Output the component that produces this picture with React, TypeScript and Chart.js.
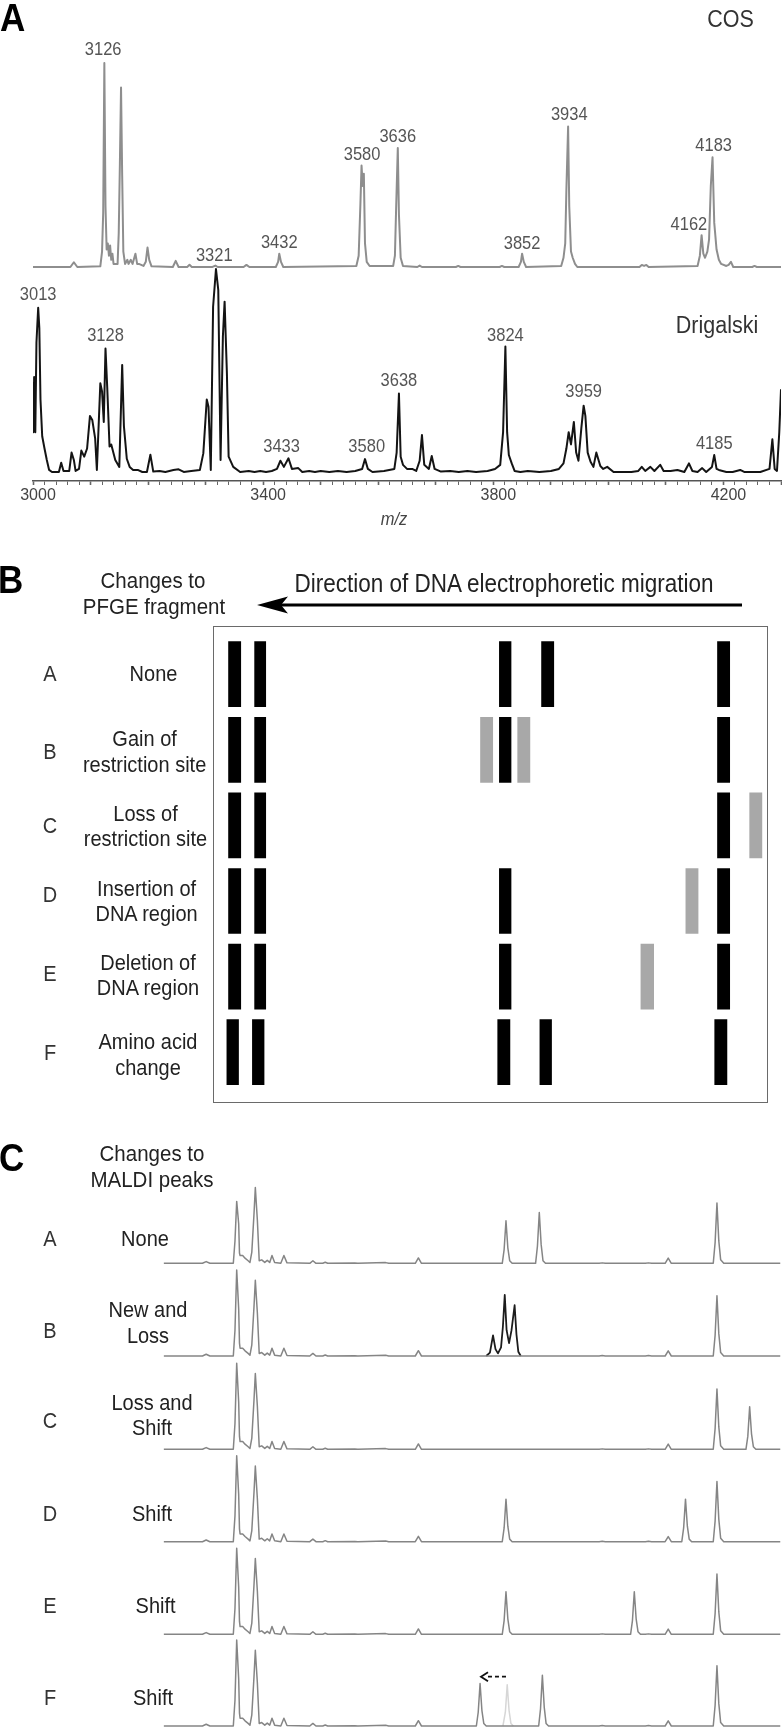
import React, { useEffect, useRef } from 'react';
import { Chart, registerables } from 'chart.js';

Chart.register(...registerables);

const FONT = '"Liberation Sans", Arial, Helvetica, sans-serif';
Chart.defaults.font.family = FONT;
const TEXT_STRETCH = 1.12;

// ---------------- Panel A : MALDI-TOF spectra (m/z, relative intensity) ----------------
const mzTickLabels = [3000, 3400, 3800, 4200];

const cosSpectrum: [number, number][] = [
  [3000, 0.5], [3065, 0.5], [3071, 2.8], [3077, 0.5],
  [3117, 0.8], [3120, 8], [3122, 27], [3124, 100], [3126, 30], [3128, 9], [3130, 12], [3132, 6], [3134, 11], [3136, 4], [3138, 7], [3140, 2],
  [3147, 2], [3149, 17], [3151, 51], [3153, 88], [3155, 45], [3157, 8], [3160, 2], [3164, 4], [3166, 2], [3170, 4], [3173, 2],
  [3178, 7], [3181, 2], [3184, 2], [3192, 1], [3196, 3], [3199, 10], [3202, 4], [3206, 0.8],
  [3243, 0.5], [3248, 3.5], [3253, 0.5], [3268, 0.5], [3272, 1.6], [3276, 0.5], [3312, 0.5], [3317, 1.2], [3321, 0.5],
  [3366, 0.5], [3371, 1.5], [3376, 0.5],
  [3422, 0.5], [3426, 3], [3428, 7], [3431, 3], [3435, 0.5],
  [3562, 1], [3566, 6], [3569, 31], [3571, 50], [3573, 40], [3575, 46], [3577, 12], [3580, 3], [3585, 1],
  [3626, 1], [3629, 6], [3631, 28], [3634, 58.5], [3636, 26], [3639, 5], [3643, 1],
  [3668, 0.5], [3672, 1.2], [3676, 0.5], [3735, 0.5], [3739, 1], [3743, 0.5], [3811, 0.5], [3815, 1], [3819, 0.5],
  [3844, 0.5], [3848, 3], [3850, 7], [3853, 3], [3857, 0.5],
  [3918, 1], [3922, 5], [3925, 12], [3927, 38], [3930, 69], [3932, 30], [3935, 8], [3938, 5], [3942, 2], [3946, 0.5],
  [4054, 0.5], [4058, 1.5], [4062, 1], [4066, 1.5], [4070, 0.5],
  [4155, 1], [4159, 6], [4162, 16], [4165, 7], [4168, 5], [4172, 8], [4175, 14], [4178, 40], [4181, 54], [4184, 22],
  [4188, 9], [4192, 4], [4196, 2], [4205, 1], [4209, 1.5], [4213, 3], [4217, 0.5], [4250, 0.5], [4254, 1], [4258, 0.5], [4300, 0.5],
];

const drigalskiSpectrum: [number, number][] = [
  [3000, 44], [3000.5, 20], [3002, 47], [3004, 20], [3006, 64], [3009, 81], [3011, 71], [3013, 36], [3016, 18], [3020, 12],
  [3024, 6.4], [3028, 1.5], [3033, 0.5], [3045, 0.5], [3049, 5], [3053, 1], [3063, 1], [3067, 10], [3071, 6.4], [3074, 1],
  [3080, 2], [3084, 11], [3089, 8], [3094, 12], [3099, 28], [3103, 26], [3108, 17], [3111, 1.5], [3117, 44], [3120, 40],
  [3123, 25], [3126, 61], [3129, 42], [3133, 13], [3136, 14], [3143, 6.4], [3150, 3], [3155, 53], [3158, 23], [3163, 7],
  [3168, 3], [3174, 1.5], [3182, 1.5], [3190, 0.5], [3198, 0.5], [3204, 9], [3209, 0.7], [3220, 1], [3230, 0.5], [3244, 1.5],
  [3253, 1.8], [3262, 0.5], [3275, 1], [3290, 1.5], [3296, 9.6], [3302, 36], [3305, 32.5], [3309, 1.5], [3313, 81.5], [3318, 100],
  [3322, 89.7], [3326, 6.4], [3330, 66.8], [3333, 84], [3337, 48.9], [3340, 8], [3348, 3], [3360, 0.5], [3375, 1], [3385, 0.5],
  [3395, 1], [3405, 0.5], [3415, 1], [3424, 2], [3430, 6], [3436, 3], [3444, 7.2], [3450, 2], [3461, 2.4], [3468, 0.5],
  [3480, 1], [3490, 0.5], [3500, 1], [3515, 0.5], [3530, 1], [3545, 0.5], [3560, 1], [3572, 2], [3577, 6.8], [3582, 2],
  [3590, 0.5], [3610, 1], [3628, 2], [3632, 10], [3636, 39], [3639, 8], [3643, 4], [3650, 2], [3659, 2], [3666, 1],
  [3672, 6], [3676, 18.6], [3680, 4], [3688, 2], [3693, 8.3], [3698, 2], [3709, 0.7], [3725, 1], [3740, 0.5], [3755, 1],
  [3770, 0.5], [3790, 1], [3803, 2], [3812, 4], [3817, 20], [3821, 62], [3824, 20], [3827, 8.8], [3832, 4.7], [3837, 1],
  [3847, 0.5], [3860, 1], [3880, 0.5], [3900, 1], [3914, 2], [3922, 4.7], [3927, 12], [3931, 20], [3935, 14], [3940, 25],
  [3944, 10], [3948, 6], [3953, 22], [3957, 33], [3960, 28], [3964, 10], [3969, 5.5], [3974, 3], [3979, 10], [3986, 3.4],
  [3991, 2], [3998, 3], [4009, 0.5], [4025, 0.5], [4040, 0.5], [4052, 1], [4058, 3], [4064, 1], [4073, 3], [4080, 1],
  [4090, 4], [4096, 1], [4108, 1], [4120, 1.5], [4132, 0.5], [4140, 4.7], [4146, 1], [4155, 0.5], [4163, 2.4], [4170, 0.5],
  [4180, 3], [4184, 8.8], [4188, 2], [4192, 1.5], [4205, 0.5], [4216, 0.5], [4229, 1.5], [4236, 0.5], [4247, 0.5], [4256, 0.5],
  [4264, 0.5], [4280, 2], [4285, 16.5], [4289, 2], [4293, 1], [4297, 20], [4300, 41],
];

const cosPeakLabels = ['3126', '3432', '3580', '3636', '3852', '3934', '4162', '4183'];
const cosLabelMz = [3122, 3428, 3572, 3634, 3850, 3932, 4140, 4183];
const cosLabelLevel = [107.3, 12.8, 56, 64.9, 12.7, 75.6, 22, 60.5];

const drigPeakLabels = ['3013', '3128', '3321', '3433', '3580', '3638', '3824', '3959', '4185'];
const drigLabelMz = [3009, 3126, 3315, 3432, 3580, 3636, 3821, 3957, 4184];
const drigLabelLevel = [88, 68, 107, 13.7, 13.7, 46, 68, 40.7, 15.2];

// ---------------- Panel B : PFGE band diagram (relative migration 0-100) ----------------
const pfgeRows = ['A', 'B', 'C', 'D', 'E', 'F'];
const pfgeRowText = [
  ['None'],
  ['Gain of', 'restriction site'],
  ['Loss of', 'restriction site'],
  ['Insertion of', 'DNA region'],
  ['Deletion of', 'DNA region'],
  ['Amino acid', 'change'],
];
const bandRow = [
  'A', 'A', 'A', 'A', 'A',
  'B', 'B', 'B', 'B', 'B', 'B',
  'C', 'C', 'C', 'C',
  'D', 'D', 'D', 'D', 'D',
  'E', 'E', 'E', 'E', 'E',
  'F', 'F', 'F', 'F', 'F',
];
const bandStart = [
  2.8, 7.5, 51.6, 59.2, 90.9,
  2.8, 7.5, 48.2, 51.6, 54.9, 90.9,
  2.8, 7.5, 90.9, 96.7,
  2.8, 7.5, 51.6, 85.2, 90.9,
  2.8, 7.5, 51.6, 77.1, 90.9,
  2.5, 7.1, 51.3, 58.9, 90.4,
];
const bandEnd = [
  5.0, 9.5, 53.7, 61.4, 93.1,
  5.0, 9.5, 50.4, 53.7, 57.1, 93.1,
  5.0, 9.5, 93.1, 98.9,
  5.0, 9.5, 53.7, 87.4, 93.1,
  5.0, 9.5, 53.7, 79.4, 93.1,
  4.6, 9.2, 53.5, 61.0, 92.6,
];
const bandAltered = [
  0, 0, 0, 0, 0,
  0, 0, 1, 0, 1, 0,
  0, 0, 0, 1,
  0, 0, 0, 1, 0,
  0, 0, 0, 1, 0,
  0, 0, 0, 0, 0,
];

// ---------------- Panel C : schematic MALDI peaks (relative position 0-100, intensity) ----------------
const maldiRowText = [['None'], ['New and', 'Loss'], ['Loss and', 'Shift'], ['Shift'], ['Shift'], ['Shift']];
const maldiMinor: [number, number][] = [
  [0, 0], [6.3, 0], [6.9, 2], [7.5, 0], [12.4, 9], [12.82, 9], [13.2, 6], [13.7, 3],
  [15.9, 4], [16.4, 1], [16.8, 3.4], [17.2, 1], [17.57, 9], [18, 1], [19, 0], [19.5, 9], [20, 0.5],
  [23.7, 0], [24.2, 3], [24.7, 0], [25.8, 0], [26.2, 1.2], [26.6, 0], [31, 0.3], [31.5, 0], [36, 0.8], [36.5, 0],
  [40.8, 0], [41.3, 6.2], [41.8, 0], [70.6, 0], [71.1, 0.5], [71.6, 0], [78.1, 0], [78.6, 0.5], [79.1, 0],
  [81.3, 0], [81.8, 6], [82.3, 0], [100, 0],
];
const peak1Short: [number, number][] = [[11.3, 0], [11.57, 26], [11.85, 72], [12.17, 46], [12.3, 12]];
const peak1: [number, number][] = [[11.3, 0], [11.57, 30], [11.85, 100], [12.17, 55], [12.3, 15]];
const peak2: [number, number][] = [[14.0, 1], [14.3, 13], [14.65, 57], [14.87, 88], [15.2, 50], [15.5, 3]];
const peak55: [number, number][] = [[54.9, 0], [55.2, 16], [55.5, 49.5], [55.8, 18], [56.1, 3], [56.5, 0]];
const peak61: [number, number][] = [[60.3, 0], [60.6, 20], [60.9, 59], [61.2, 22], [61.5, 3], [61.9, 0]];
const peak90: [number, number][] = [[89.1, 0], [89.4, 24], [89.7, 70], [90.0, 26], [90.3, 4], [90.8, 0]];
const peak95: [number, number][] = [[94.4, 0], [94.7, 15], [95.0, 49.5], [95.3, 18], [95.6, 3], [96.0, 0]];
const peak85: [number, number][] = [[84.0, 0], [84.3, 16], [84.6, 49.5], [84.9, 18], [85.2, 3], [85.6, 0]];
const peak76: [number, number][] = [[75.7, 0], [76.0, 16], [76.3, 49.5], [76.6, 18], [76.9, 3], [77.3, 0]];
const peak51: [number, number][] = [[50.7, 0], [51.0, 16], [51.3, 49.5], [51.6, 18], [51.9, 3], [52.3, 0]];
const peak61F: [number, number][] = [[60.8, 0], [61.1, 20], [61.4, 59], [61.7, 22], [62.0, 3], [62.4, 0]];
const newPeaksB: [number, number][] = [
  [52.3, 0], [52.9, 4], [53.4, 24], [53.8, 8], [54.2, 3], [54.7, 10], [55.0, 34], [55.3, 71], [55.6, 30],
  [56.0, 15], [56.4, 30], [56.9, 59], [57.2, 25], [57.5, 5], [57.9, 0],
];
const lostPeakF: [number, number][] = [[55.0, 0], [55.4, 16], [55.7, 48], [56.0, 18], [56.3, 3], [56.7, 0]];
const maldiRowPeaks: [number, number][][] = [
  [...peak1Short, ...peak2, ...peak55, ...peak61, ...peak90],
  [...peak1, ...peak2, ...peak90],
  [...peak1, ...peak2, ...peak90, ...peak95],
  [...peak1, ...peak2, ...peak55, ...peak85, ...peak90],
  [...peak1, ...peak2, ...peak55, ...peak76, ...peak90],
  [...peak1, ...peak2, ...peak51, ...peak61F, ...peak90],
];
const shiftArrowFrom = 55.5;
const shiftArrowTo = 51.45;
const shiftArrowLevel = 57.3;

// ---------------- layout ----------------
const W = 782;
const A_TOP = 0, A_H = 530;
const B_TOP = 615, B_H = 500;
const C_TOP = 1180, C_H = 550;
const C_ROW_BASE = [1263.3, 1356, 1449.3, 1541.7, 1634.3, 1726];
const C_PX_PER_UNIT = 0.86;

type TxtProps = {
  x: number; y: number; children: React.ReactNode; size?: number; weight?: number;
  align?: 'left' | 'center' | 'right'; color?: string; italic?: boolean;
};
function Txt({ x, y, children, size = 20, weight = 400, align = 'center', color = '#222', italic = false }: TxtProps) {
  const tx = align === 'center' ? 'translateX(-50%) ' : align === 'right' ? 'translateX(-100%) ' : '';
  const style: React.CSSProperties = {
    position: 'absolute', left: x, top: y - size / 2, fontSize: size, lineHeight: `${size}px`,
    fontFamily: FONT, fontWeight: weight, color, whiteSpace: 'nowrap', fontStyle: italic ? 'italic' : 'normal',
    transform: `${tx}scaleY(${TEXT_STRETCH})`, transformOrigin: 'center center',
  };
  return <div style={style}>{children}</div>;
}

function toXY(arr: [number, number][]) {
  return arr.map(([x, y]) => ({ x, y }));
}

export default function App() {
  const aRef = useRef<HTMLCanvasElement>(null);
  const bRef = useRef<HTMLCanvasElement>(null);
  const cRef = useRef<HTMLCanvasElement>(null);

  useEffect(() => {
    const charts: Chart[] = [];

    // ---------- Panel A ----------
    const aPlotTop = 30, aPlotBottom = 481;
    const cosBase = 268, cosScale = 2.05;
    const drigBase = 473, drigScale = 2.04;
    const labelPlugin = {
      id: 'peakLabels',
      afterDatasetsDraw(chart: any) {
        const { ctx } = chart;
        const xs = chart.scales.x;
        const size = 16.5;
        ctx.save();
        ctx.font = `${size}px ${FONT}`;
        ctx.fillStyle = '#555';
        ctx.textAlign = 'center';
        ctx.textBaseline = 'alphabetic';
        const sets = [
          { axis: 'yCos', labels: cosPeakLabels, mz: cosLabelMz, lvl: cosLabelLevel },
          { axis: 'yDrig', labels: drigPeakLabels, mz: drigLabelMz, lvl: drigLabelLevel },
        ];
        for (const s of sets) {
          const ys = chart.scales[s.axis];
          s.labels.forEach((t, i) => {
            ctx.save();
            ctx.translate(xs.getPixelForValue(s.mz[i]), ys.getPixelForValue(s.lvl[i]));
            ctx.scale(1, TEXT_STRETCH);
            ctx.fillText(t, 0, size * 0.358);
            ctx.restore();
          });
        }
        ctx.restore();
      },
    };
    charts.push(new Chart(aRef.current!, {
      type: 'line',
      data: {
        datasets: [
          { label: 'COS', data: toXY(cosSpectrum), yAxisID: 'yCos', borderColor: '#8e8e8e', borderWidth: 2,
            pointRadius: 0, tension: 0, fill: false, borderJoinStyle: 'round' },
          { label: 'Drigalski', data: toXY(drigalskiSpectrum), yAxisID: 'yDrig', borderColor: '#141414', borderWidth: 2,
            pointRadius: 0, tension: 0, fill: false, borderJoinStyle: 'round' },
        ],
      },
      options: {
        responsive: false, animation: false, events: [],
        layout: { padding: { left: 33, right: 1, top: aPlotTop, bottom: 0 } },
        plugins: { legend: { display: false }, tooltip: { enabled: false } },
        scales: {
          x: {
            type: 'linear', position: 'bottom', min: 3000, max: 4300,
            afterFit: (s: any) => { s.height = A_H - aPlotBottom; },
            border: { display: true, color: '#555', width: 1.5 },
            grid: {
              drawOnChartArea: false, drawTicks: true, tickLength: 4, color: '#666',
              tickWidth: (c: any) => (Math.round(c.tick?.value ?? 0) % 100 === 0 ? 1.6 : 1),
            },
            ticks: {
              stepSize: 20, autoSkip: false, maxTicksLimit: 1000, maxRotation: 0, minRotation: 0,
              padding: 1, labelOffset: 5, color: '#444', font: { size: 16, family: FONT },
              callback: (v: any) => (mzTickLabels.includes(Math.round(Number(v))) ? String(Math.round(Number(v))) : ''),
            },
          },
          yCos: {
            type: 'linear', display: false,
            min: -(aPlotBottom - cosBase) / cosScale, max: (cosBase - aPlotTop) / cosScale,
          },
          yDrig: {
            type: 'linear', display: false,
            min: -(aPlotBottom - drigBase) / drigScale, max: (drigBase - aPlotTop) / drigScale,
          },
        },
      } as any,
      plugins: [labelPlugin],
    } as any));

    // ---------- Panel B ----------
    const boxPlugin = {
      id: 'gelBox',
      beforeDatasetsDraw(chart: any) {
        const { ctx, chartArea: a } = chart;
        ctx.save();
        ctx.strokeStyle = '#6a6a6a';
        ctx.lineWidth = 1;
        const top = Math.round(a.top - 10.7) + 0.5;
        const bottom = Math.round(a.bottom + 11.7) + 0.5;
        ctx.strokeRect(Math.round(a.left) + 0.5, top, Math.round(a.right - a.left) - 1, bottom - top);
        ctx.restore();
      },
    };
    charts.push(new Chart(bRef.current!, {
      type: 'bar',
      data: {
        labels: pfgeRows,
        datasets: bandRow.map((r, i) => ({
          label: `band ${i}`,
          data: pfgeRows.map((row) => (row === r ? [bandStart[i], bandEnd[i]] : null)),
          backgroundColor: bandAltered[i] ? '#a8a8a8' : '#000000',
          borderWidth: 0,
          barThickness: 65,
          grouped: false,
        })),
      },
      options: {
        indexAxis: 'y', responsive: false, animation: false, events: [],
        layout: { padding: { left: 213, right: W - 768, top: 636.4 - B_TOP, bottom: B_TOP + B_H - 1090 } },
        plugins: { legend: { display: false }, tooltip: { enabled: false } },
        scales: {
          x: { type: 'linear', min: 0, max: 100, display: false },
          y: { type: 'category', display: false, offset: true },
        },
      } as any,
      plugins: [boxPlugin],
    } as any));

    // ---------- Panel C ----------
    const cAxes: any = {};
    C_ROW_BASE.forEach((b, i) => {
      const local = b - C_TOP;
      cAxes[`y${i}`] = { type: 'linear', display: false, min: -(C_H - local) / C_PX_PER_UNIT, max: local / C_PX_PER_UNIT };
    });
    const cDatasets: any[] = maldiRowPeaks.map((peaks, i) => ({
      label: `row ${pfgeRows[i]}`,
      data: toXY([...maldiMinor, ...peaks].sort((p, q) => p[0] - q[0])),
      yAxisID: `y${i}`,
      borderColor: '#858585', borderWidth: 1.5, pointRadius: 0, tension: 0, fill: false, borderJoinStyle: 'round',
    }));
    cDatasets.push({
      label: 'new peaks B', data: toXY(newPeaksB), yAxisID: 'y1',
      borderColor: '#1c1c1c', borderWidth: 1.8, pointRadius: 0, tension: 0, fill: false, borderJoinStyle: 'round',
    });
    cDatasets.push({
      label: 'lost peak F', data: toXY(lostPeakF), yAxisID: 'y5',
      borderColor: '#d6d6d6', borderWidth: 1.5, pointRadius: 0, tension: 0, fill: false, borderJoinStyle: 'round',
    });
    const arrowPlugin = {
      id: 'shiftArrow',
      afterDatasetsDraw(chart: any) {
        const { ctx } = chart;
        const xs = chart.scales.x, ys = chart.scales.y5;
        const y = ys.getPixelForValue(shiftArrowLevel);
        const x0 = xs.getPixelForValue(shiftArrowFrom);
        const x1 = xs.getPixelForValue(shiftArrowTo);
        ctx.save();
        ctx.strokeStyle = '#111';
        ctx.lineWidth = 1.8;
        ctx.setLineDash([4, 3]);
        ctx.beginPath(); ctx.moveTo(x0, y); ctx.lineTo(x1 + 4, y); ctx.stroke();
        ctx.setLineDash([]);
        ctx.beginPath(); ctx.moveTo(x1 + 7, y - 4.5); ctx.lineTo(x1, y); ctx.lineTo(x1 + 7, y + 4.5); ctx.stroke();
        ctx.restore();
      },
    };
    charts.push(new Chart(cRef.current!, {
      type: 'line',
      data: { datasets: cDatasets },
      options: {
        responsive: false, animation: false, events: [],
        layout: { padding: { left: 163.6, right: 1.5, top: 0, bottom: 0 } },
        plugins: { legend: { display: false }, tooltip: { enabled: false } },
        scales: { x: { type: 'linear', min: 0, max: 100, display: false }, ...cAxes },
      } as any,
      plugins: [arrowPlugin],
    } as any));

    return () => charts.forEach((c) => c.destroy());
  }, []);

  const pfgeLetterY = [673.3, 751, 825, 894.3, 973.3, 1051.7];
  const pfgeTextX = [153.5, 144.6, 145.5, 146.6, 148, 148];
  const pfgeTextY = [[673.3], [738.3, 764.3], [813.3, 838.3], [888.3, 913.3], [961.7, 987.3], [1040.7, 1066.7]];
  const maldiLetterY = [1238.3, 1330, 1420, 1513.3, 1605, 1696.7];
  const maldiTextX = [145, 148, 152, 152, 155.6, 153];
  const maldiTextY = [[1238.3], [1309, 1335], [1402.3, 1426.7], [1513.3], [1605], [1696.7]];

  return (
    <div style={{ position: 'absolute', left: 0, top: 0, width: W, height: 1730, background: '#fff', overflow: 'hidden' }}>
      <canvas ref={aRef} width={W} height={A_H} style={{ position: 'absolute', left: 0, top: A_TOP, width: W, height: A_H }} />
      <canvas ref={bRef} width={W} height={B_H} style={{ position: 'absolute', left: 0, top: B_TOP, width: W, height: B_H }} />
      <canvas ref={cRef} width={W} height={C_H} style={{ position: 'absolute', left: 0, top: C_TOP, width: W, height: C_H }} />

      <svg width={W} height={1730} style={{ position: 'absolute', left: 0, top: 0, pointerEvents: 'none' }}>
        <line x1={742} y1={605} x2={280} y2={605} stroke="#000" strokeWidth={3.2} />
        <polygon points="257,605 288,596.5 281,605 288,613.5" fill="#000" />
      </svg>

      {/* Panel A */}
      <Txt x={0} y={17.5} size={35} weight={700} align="left" color="#000">A</Txt>
      <Txt x={730.5} y={20} size={21.5} color="#333">COS</Txt>
      <Txt x={717} y={326} size={21.5} color="#333">Drigalski</Txt>
      <Txt x={394} y={518} size={16.5} color="#444" italic>m/z</Txt>

      {/* Panel B */}
      <Txt x={-2} y={578} size={35} weight={700} align="left" color="#000">B</Txt>
      <Txt x={153} y={580} size={20.5}>Changes to</Txt>
      <Txt x={154} y={606} size={20.5}>PFGE fragment</Txt>
      <Txt x={504} y={584} size={22.5}>Direction of DNA electrophoretic migration</Txt>
      {pfgeRows.map((r, i) => (
        <React.Fragment key={`b${r}`}>
          <Txt x={50} y={pfgeLetterY[i]} size={20} color="#333">{r}</Txt>
          {pfgeRowText[i].map((t, j) => (
            <Txt key={t + j} x={pfgeTextX[i]} y={pfgeTextY[i][j]} size={20}>{t}</Txt>
          ))}
        </React.Fragment>
      ))}

      {/* Panel C */}
      <Txt x={-1} y={1156.5} size={35} weight={700} align="left" color="#000">C</Txt>
      <Txt x={152} y={1153.3} size={20.5}>Changes to</Txt>
      <Txt x={152} y={1179.3} size={20.5}>MALDI peaks</Txt>
      {pfgeRows.map((r, i) => (
        <React.Fragment key={`c${r}`}>
          <Txt x={50} y={maldiLetterY[i]} size={20} color="#333">{r}</Txt>
          {maldiRowText[i].map((t, j) => (
            <Txt key={t + j} x={maldiTextX[i]} y={maldiTextY[i][j]} size={20}>{t}</Txt>
          ))}
        </React.Fragment>
      ))}
    </div>
  );
}
